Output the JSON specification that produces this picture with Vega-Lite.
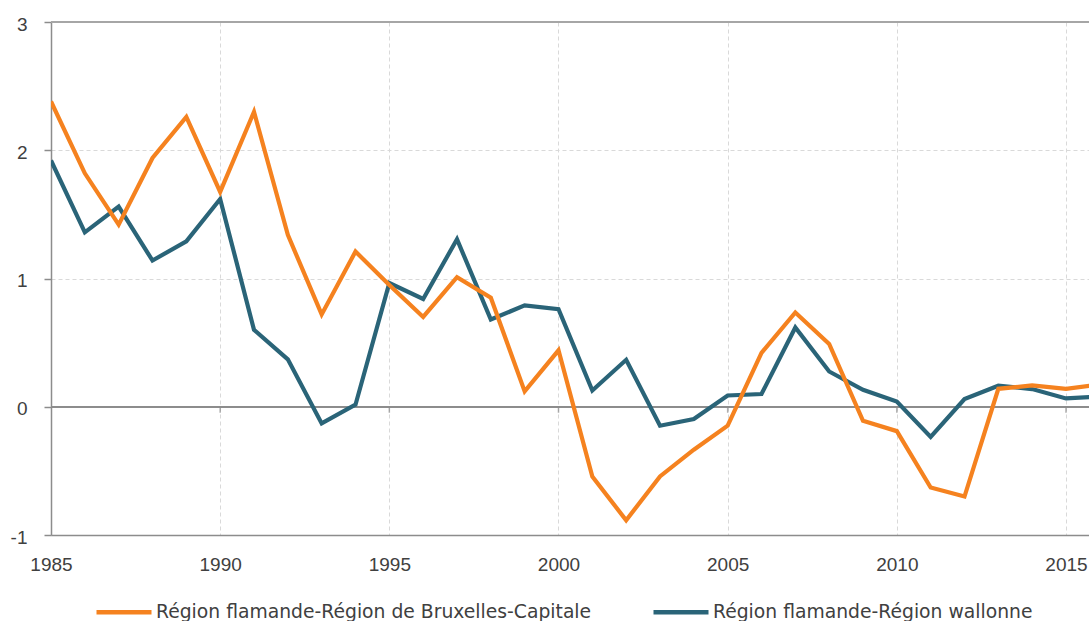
{
  "$schema": "https://vega.github.io/schema/vega-lite/v6.json",
  "width": 1038,
  "height": 513,
  "autosize": {"type": "none"},
  "padding": {"left": 51, "top": 22, "right": 0, "bottom": 86},
  "background": "white",
  "config": {"view": {"stroke": null}, "font": "Liberation Sans"},
  "datasets": {
    "series": [
      {"year": 1985, "Région flamande-Région wallonne": 1.92, "Région flamande-Région de Bruxelles-Capitale": 2.38},
      {"year": 1986, "Région flamande-Région wallonne": 1.36, "Région flamande-Région de Bruxelles-Capitale": 1.82},
      {"year": 1987, "Région flamande-Région wallonne": 1.56, "Région flamande-Région de Bruxelles-Capitale": 1.42},
      {"year": 1988, "Région flamande-Région wallonne": 1.14, "Région flamande-Région de Bruxelles-Capitale": 1.94},
      {"year": 1989, "Région flamande-Région wallonne": 1.29, "Région flamande-Région de Bruxelles-Capitale": 2.26},
      {"year": 1990, "Région flamande-Région wallonne": 1.62, "Région flamande-Région de Bruxelles-Capitale": 1.675},
      {"year": 1991, "Région flamande-Région wallonne": 0.60, "Région flamande-Région de Bruxelles-Capitale": 2.30},
      {"year": 1992, "Région flamande-Région wallonne": 0.37, "Région flamande-Région de Bruxelles-Capitale": 1.34},
      {"year": 1993, "Région flamande-Région wallonne": -0.13, "Région flamande-Région de Bruxelles-Capitale": 0.72},
      {"year": 1994, "Région flamande-Région wallonne": 0.016, "Région flamande-Région de Bruxelles-Capitale": 1.21},
      {"year": 1995, "Région flamande-Région wallonne": 0.965, "Région flamande-Région de Bruxelles-Capitale": 0.95},
      {"year": 1996, "Région flamande-Région wallonne": 0.84, "Région flamande-Région de Bruxelles-Capitale": 0.70},
      {"year": 1997, "Région flamande-Région wallonne": 1.306, "Région flamande-Région de Bruxelles-Capitale": 1.01},
      {"year": 1998, "Région flamande-Région wallonne": 0.68, "Région flamande-Région de Bruxelles-Capitale": 0.85},
      {"year": 1999, "Région flamande-Région wallonne": 0.79, "Région flamande-Région de Bruxelles-Capitale": 0.12},
      {"year": 2000, "Région flamande-Région wallonne": 0.76, "Région flamande-Région de Bruxelles-Capitale": 0.44},
      {"year": 2001, "Région flamande-Région wallonne": 0.127, "Région flamande-Région de Bruxelles-Capitale": -0.545},
      {"year": 2002, "Région flamande-Région wallonne": 0.366, "Région flamande-Région de Bruxelles-Capitale": -0.885},
      {"year": 2003, "Région flamande-Région wallonne": -0.148, "Région flamande-Région de Bruxelles-Capitale": -0.543},
      {"year": 2004, "Région flamande-Région wallonne": -0.096, "Région flamande-Région de Bruxelles-Capitale": -0.335},
      {"year": 2005, "Région flamande-Région wallonne": 0.088, "Région flamande-Région de Bruxelles-Capitale": -0.148},
      {"year": 2006, "Région flamande-Région wallonne": 0.099, "Région flamande-Région de Bruxelles-Capitale": 0.42},
      {"year": 2007, "Région flamande-Région wallonne": 0.618, "Région flamande-Région de Bruxelles-Capitale": 0.735},
      {"year": 2008, "Région flamande-Région wallonne": 0.275, "Région flamande-Région de Bruxelles-Capitale": 0.49},
      {"year": 2009, "Région flamande-Région wallonne": 0.132, "Région flamande-Région de Bruxelles-Capitale": -0.11},
      {"year": 2010, "Région flamande-Région wallonne": 0.041, "Région flamande-Région de Bruxelles-Capitale": -0.19},
      {"year": 2011, "Région flamande-Région wallonne": -0.236, "Région flamande-Région de Bruxelles-Capitale": -0.63},
      {"year": 2012, "Région flamande-Région wallonne": 0.06, "Région flamande-Région de Bruxelles-Capitale": -0.70},
      {"year": 2013, "Région flamande-Région wallonne": 0.164, "Région flamande-Région de Bruxelles-Capitale": 0.14},
      {"year": 2014, "Région flamande-Région wallonne": 0.138, "Région flamande-Région de Bruxelles-Capitale": 0.166},
      {"year": 2015, "Région flamande-Région wallonne": 0.065, "Région flamande-Région de Bruxelles-Capitale": 0.14},
      {"year": 2016, "Région flamande-Région wallonne": 0.08, "Région flamande-Région de Bruxelles-Capitale": 0.174}
    ],
    "ticks": [
      {"year": 1990}, {"year": 1995}, {"year": 2000}, {"year": 2005}, {"year": 2010}, {"year": 2015}
    ]
  },
  "layer": [
    {
      "data": {"name": "ticks"},
      "mark": {"type": "rule", "color": "#a6a6a6", "strokeWidth": 1.5},
      "encoding": {"y": {"datum": 3, "type": "quantitative"}}
    },
    {
      "data": {"name": "ticks"},
      "mark": {"type": "rule", "color": "#8c8c8c", "strokeWidth": 1.5},
      "encoding": {"y": {"datum": 0, "type": "quantitative"}}
    },
    {
      "data": {"name": "ticks"},
      "mark": {"type": "tick", "orient": "vertical", "size": 6, "thickness": 1.5, "color": "#8c8c8c", "yOffset": 3},
      "encoding": {
        "x": {"field": "year", "type": "quantitative"},
        "y": {"datum": 0, "type": "quantitative"}
      }
    },
    {
      "data": {"name": "series"},
      "transform": [
        {"fold": ["Région flamande-Région wallonne", "Région flamande-Région de Bruxelles-Capitale"], "as": ["serie", "value"]}
      ],
      "mark": {"type": "line", "strokeWidth": 4.2, "clip": true},
      "encoding": {
        "x": {
          "field": "year",
          "type": "quantitative",
          "scale": {"domain": [1985, 2015.68], "nice": false, "zero": false},
          "axis": {
            "values": [1985, 1990, 1995, 2000, 2005, 2010, 2015],
            "format": "d",
            "title": null,
            "grid": true,
            "gridDash": [4, 3],
            "gridColor": "#d9d9d9",
            "gridWidth": 1,
            "ticks": false,
            "domainColor": "#8c8c8c",
            "domainWidth": 1.5,
            "labelFont": "Liberation Sans",
            "labelFontSize": 19,
            "labelColor": "#404040",
            "labelPadding": 20,
            "labelFlush": false,
            "labelOverlap": false
          }
        },
        "y": {
          "field": "value",
          "type": "quantitative",
          "scale": {"domain": [-1, 3], "nice": false, "zero": false},
          "axis": {
            "values": [-1, 0, 1, 2, 3],
            "labelExpr": "'' + datum.value",
            "title": null,
            "grid": true,
            "gridDash": [4, 3],
            "gridColor": "#d9d9d9",
            "gridWidth": 1,
            "domainColor": "#8c8c8c",
            "domainWidth": 1.5,
            "tickColor": "#8c8c8c",
            "tickSize": 7,
            "tickWidth": 1.5,
            "labelFont": "Liberation Sans",
            "labelFontSize": 19,
            "labelColor": "#404040",
            "labelPadding": 17,
            "labelOffset": 2
          }
        },
        "color": {
          "field": "serie",
          "type": "nominal",
          "scale": {
            "domain": ["Région flamande-Région de Bruxelles-Capitale", "Région flamande-Région wallonne"],
            "range": ["#F5821F", "#2A6478"]
          },
          "legend": {
            "orient": "none",
            "legendX": 43,
            "legendY": 560,
            "direction": "horizontal",
            "title": null,
            "padding": 0,
            "symbolType": "stroke",
            "symbolSize": 3025,
            "symbolStrokeWidth": 4.5,
            "labelFont": "DejaVu Sans",
            "labelFontSize": 18.75,
            "labelColor": "#404040",
            "labelOffset": 2,
            "labelLimit": 700,
            "columnPadding": 52
          }
        }
      }
    }
  ]
}
